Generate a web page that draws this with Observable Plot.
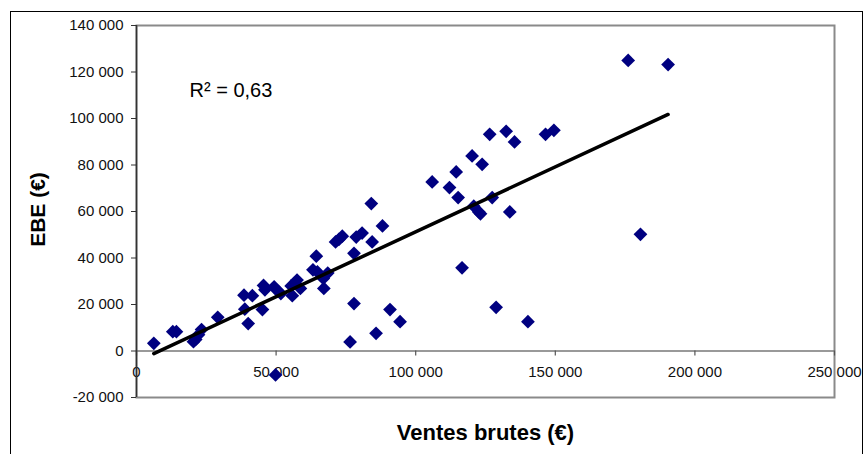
<!DOCTYPE html>
<html>
<head>
<meta charset="utf-8">
<script src="https://cdn.jsdelivr.net/npm/d3@7"></script>
<script src="https://cdn.jsdelivr.net/npm/@observablehq/plot@0.6"></script>
<style>
  html, body { margin: 0; padding: 0; background: #fff; overflow: hidden; }
  #wrap { position: relative; width: 866px; height: 454px; }
  #outer { position: absolute; left: 10px; top: 11px; width: 851px; height: 460px; border: 1.5px solid #000; pointer-events: none; }
  svg { display: block; }
</style>
</head>
<body>
<div id="wrap"><div id="outer"></div></div>
<script>
// Ventes brutes (€) — x values
const ventes = [
  6200, 13000, 14300, 20400, 21200, 22200, 23300, 29100,
  38500, 41500, 38800, 40000, 45100, 45500, 46000, 49300, 50400, 51700, 49800,
  55400, 55800, 57500, 58700, 63200, 64400, 64800, 66900, 67100, 68500,
  71300, 72500, 73700, 76500, 77900, 77900, 78700, 80800, 84100, 84400, 85800,
  88100, 90800, 94400,
  105900, 112100, 114500, 115200, 120200, 123800, 120800, 122600, 123200,
  127400, 126500, 132400, 135400, 133700, 146500, 149500, 116600, 128800, 140200,
  176100, 190400, 180500
];
// EBE (€) — y values
const ebe = [
  3300, 8300, 8300, 4000, 5000, 7000, 9200, 14500,
  24000, 23800, 18000, 11800, 17800, 28200, 26300, 27600, 26000, 24700, -10300,
  28000, 23800, 30500, 26900, 34900, 40800, 34000, 31200, 26900, 33500,
  46900, 48000, 49400, 3900, 42000, 20400, 49000, 50700, 63400, 46900, 7600,
  53800, 17800, 12600,
  72700, 70300, 77000, 66000, 83900, 80300, 62300, 59800, 59000,
  66000, 93200, 94500, 89900, 59800, 93200, 94900, 35800, 18800, 12600,
  125000, 123200, 50200
];
const xTicks = [0, 50000, 100000, 150000, 200000, 250000];
const yTicks = [-20000, 0, 20000, 40000, 60000, 80000, 100000, 120000, 140000];
const xLabel = "Ventes brutes (€)";
const yLabel = "EBE (€)";
const r2Label = "R² = 0,63";
const r2Pos = [{x: 19000, y: 112000}];

const data = ventes.map((v, i) => ({ventes: v, ebe: ebe[i]}));

const locale = d3.formatLocale({decimal: ",", thousands: " ", grouping: [3], currency: ["", " €"], minus: "-"});
const fmt = locale.format(",d");

const font = "'Liberation Sans', Arial, sans-serif";
const axisDark = "#333";
const frameGray = "#8a8a8a";

const chart = Plot.plot({
  width: 866,
  height: 454,
  marginLeft: 136,
  marginRight: 32,
  marginTop: 25,
  marginBottom: 57,
  style: {fontFamily: font, background: "transparent", overflow: "visible"},
  x: {domain: [0, 250000], axis: null},
  y: {domain: [-20000, 140000], axis: null},
  marks: [
    Plot.frame({stroke: frameGray, strokeWidth: 2}),
    Plot.ruleY([0], {stroke: "#777", strokeWidth: 1.5}),
    Plot.ruleX(xTicks, {x: d => d, y1: 0, y2: 0, insetBottom: -5, stroke: "#555", strokeWidth: 1.2}),
    Plot.text(xTicks, {x: d => d, y: 0, dy: 21, text: d => fmt(d), fontSize: 15, fill: "#111", textAnchor: "middle", letterSpacing: 0.3}),
    Plot.axisY(yTicks, {anchor: "left", tickSize: 5, tickPadding: 8, tickFormat: fmt, fontSize: 15, stroke: axisDark, fill: "#111", label: null}),
    Plot.ruleX([0], {stroke: axisDark, strokeWidth: 1.5}),
    Plot.dot(data, {x: "ventes", y: "ebe", symbol: "diamond2", r: 6.2, fill: "#000080", stroke: "none"}),
    Plot.linearRegressionY(data, {x: "ventes", y: "ebe", ci: 0, stroke: "#000", strokeWidth: 3.5, strokeLinecap: "round"}),
    Plot.text(r2Pos, {x: "x", y: "y", text: () => r2Label, textAnchor: "start", fontSize: 20, fill: "#000"}),
    Plot.text([yLabel], {frameAnchor: "left", dx: -98, dy: -2, rotate: -90, textAnchor: "middle", lineAnchor: "middle", text: d => d, fontSize: 21, fontWeight: "bold", fill: "#000", letterSpacing: 0.5}),
    Plot.text([xLabel], {frameAnchor: "bottom", dy: 35, textAnchor: "middle", lineAnchor: "middle", text: d => d, fontSize: 22, fontWeight: "bold", fill: "#000", letterSpacing: 1.4})
  ]
});
document.getElementById("wrap").prepend(chart);
</script>
</body>
</html>
